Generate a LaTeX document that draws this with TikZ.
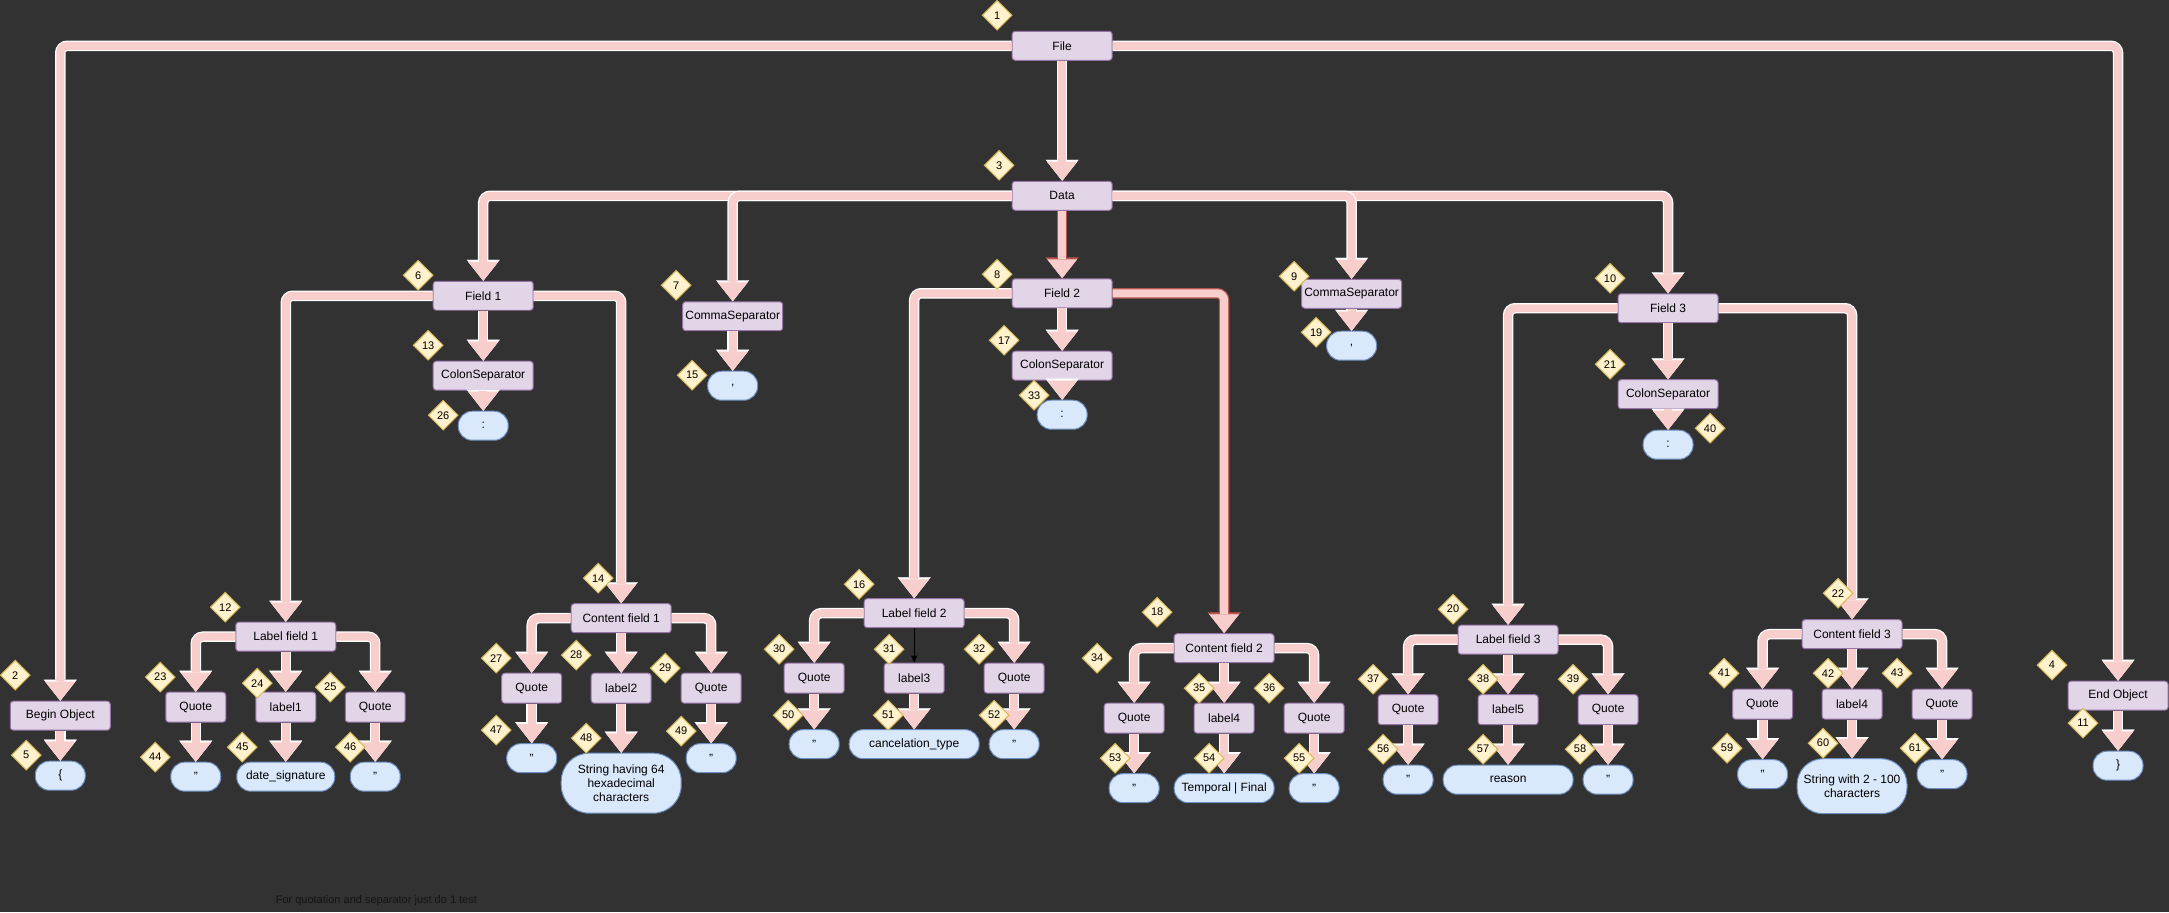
\documentclass[tikz,border=0pt]{standalone}
\usepackage{fontspec}
\setmainfont{Liberation Sans}
\usetikzlibrary{shapes.geometric,arrows.meta}

\definecolor{bgdark}{RGB}{50,50,50}
\definecolor{boxfill}{HTML}{E1D5E7}
\definecolor{boxline}{HTML}{9673A6}
\definecolor{valfill}{HTML}{DAE8FC}
\definecolor{valline}{HTML}{6C8EBF}
\definecolor{badgefill}{HTML}{FFF2CC}
\definecolor{badgeline}{HTML}{D6B656}
\definecolor{flowpink}{HTML}{F8CECC}
\definecolor{flowred}{HTML}{B85450}
\definecolor{notegray}{RGB}{20,20,20}

\begin{document}
\begin{tikzpicture}[x=1pt, y=-1pt,
    block/.style={rectangle, draw=boxline, fill=boxfill, line width=1pt, rounded corners=3pt, minimum width=100pt, minimum height=29pt, inner sep=0pt, font=\fontsize{12}{14}\selectfont},
    tok/.style={block, minimum width=60pt, minimum height=30pt},
    val/.style={rectangle, draw=valline, fill=valfill, line width=1pt, rounded corners=14pt, minimum width=50pt, minimum height=29pt, inner sep=0pt, align=center, font=\fontsize{12}{14}\selectfont},
    badge/.style={diamond, draw=badgeline, fill=badgefill, line width=1pt, minimum width=30pt, minimum height=30pt, inner sep=0pt, font=\fontsize{11}{13}\selectfont},
    line/.style={draw=flowpink, line width=8pt, rounded corners=7pt, -{Triangle[width=30pt, length=19pt, line width=0.1pt]},
        preaction={draw=#1, line width=10.5pt, -{Triangle[width=33pt, length=21pt, line width=0.1pt]}}},
    line/.default=white,
    plainline/.style={draw=black, line width=0.8pt, -{Triangle[width=6pt, length=7pt]}}]

    % background and page size
    \fill [bgdark] (0,0) rectangle (2169,912);

    % top level
    \node [block] (file) at (1062,45.5) {File};
    \node [block] (data) at (1062,195.5) {Data};
    \node [block] (begin) at (60,715.5) {Begin Object};
    \node [val] (lbrace) at (60,775.5) {\{};
    \node [block] (endobj) at (2118,695.5) {End Object};
    \node [val] (rbrace) at (2118,765.5) {\}};

    % field 1
    \node [block] (field1) at (483,295.5) {Field 1};
    \node [block] (colon1) at (483,375.5) {ColonSeparator};
    \node [val] (colv1) at (483,425.5) {:};
    \node [block] (comma1) at (732.5,316) {CommaSeparator};
    \node [val] (commav1) at (732.5,385.5) {,};
    \node [block] (lab1) at (285.5,636.5) {Label field 1};
    \node [tok] (q11) at (195.5,707) {Quote};
    \node [tok] (l1) at (285.5,707) {label1};
    \node [tok] (q12) at (375,707) {Quote};
    \node [val] (v11) at (195.5,776.5) {"};
    \node [val, minimum width=98pt] (v12) at (285.5,776.5) {date\_signature};
    \node [val] (v13) at (375,776.5) {"};
    \node [block] (con1) at (621,618) {Content field 1};
    \node [tok] (q13) at (531.5,688) {Quote};
    \node [tok] (l2) at (621,688) {label2};
    \node [tok] (q14) at (711,688) {Quote};
    \node [val] (v14) at (531.5,758) {"};
    \node [val, minimum width=120pt, minimum height=60pt, rounded corners=28pt] (v15) at (621,783) {String having 64\\hexadecimal\\characters};
    \node [val] (v16) at (711,758) {"};

    % field 2
    \node [block] (field2) at (1062,293) {Field 2};
    \node [block] (colon2) at (1062,365.5) {ColonSeparator};
    \node [val] (colv2) at (1062,414.5) {:};
    \node [block] (comma2) at (1351.5,293.5) {CommaSeparator};
    \node [val] (commav2) at (1351.5,345.5) {,};
    \node [block] (lab2) at (914,613) {Label field 2};
    \node [tok] (q21) at (814,678) {Quote};
    \node [tok] (l3) at (914,678) {label3};
    \node [tok] (q22) at (1014,678) {Quote};
    \node [val] (v21) at (814,744) {"};
    \node [val, minimum width=130pt] (v22) at (914,744) {cancelation\_type};
    \node [val] (v23) at (1014,744) {"};
    \node [block] (con2) at (1224,648) {Content field 2};
    \node [tok] (q23) at (1134,718) {Quote};
    \node [tok] (l4) at (1224,718) {label4};
    \node [tok] (q24) at (1314,718) {Quote};
    \node [val] (v24) at (1134,788) {"};
    \node [val, minimum width=100pt] (v25) at (1224,788) {Temporal | Final};
    \node [val] (v26) at (1314,788) {"};

    % field 3
    \node [block] (field3) at (1668,308) {Field 3};
    \node [block] (colon3) at (1668,394) {ColonSeparator};
    \node [val] (colv3) at (1668,444.5) {:};
    \node [block] (lab3) at (1508,639.5) {Label field 3};
    \node [tok] (q31) at (1408,709.5) {Quote};
    \node [tok] (l5) at (1508,709.5) {label5};
    \node [tok] (q32) at (1608,709.5) {Quote};
    \node [val] (v31) at (1408,779.5) {"};
    \node [val, minimum width=130pt] (v32) at (1508,779.5) {reason};
    \node [val] (v33) at (1608,779.5) {"};
    \node [block] (con3) at (1852,634) {Content field 3};
    \node [tok] (q33) at (1762.5,704) {Quote};
    \node [tok] (l6) at (1852,704) {label4};
    \node [tok] (q34) at (1942,704) {Quote};
    \node [val] (v34) at (1762.5,774) {"};
    \node [val, minimum width=110pt, minimum height=55pt, rounded corners=26pt] (v35) at (1852,786) {String with 2 - 100\\characters};
    \node [val] (v36) at (1942,774) {"};

    \node [anchor=west, text=notegray, font=\fontsize{11}{13}\selectfont] (note) at (272,900) {For quotation and separator just do 1 test};

    % file level
    \path [line] (file.west) -| (begin.north);
    \path [line] (file) -- (data);
    \path [line] (file.east) -| (endobj.north);
    \path [line] (begin) -- (lbrace);
    \path [line] (endobj) -- (rbrace);

    % data level
    \path [line] (data.west) -| (field1.north);
    \path [line] (data.west) -| (comma1.north);
    \path [line=flowred] (data) -- (field2);
    \path [line] (data.east) -| (field3.north);
    \path [line] (data.east) -| (comma2.north);
    \path [line] (comma1) -- (commav1);
    \path [line] (comma2) -- (commav2);

    % field 1
    \path [line] (field1.west) -| (lab1.north);
    \path [line] (field1) -- (colon1);
    \path [line] (colon1) -- (colv1);
    \path [line] (field1.east) -| (con1.north);
    \path [line] (lab1.west) -| (q11.north);
    \path [line] (lab1) -- (l1);
    \path [line] (lab1.east) -| (q12.north);
    \path [line] (q11) -- (v11);
    \path [line] (l1) -- (v12);
    \path [line] (q12) -- (v13);
    \path [line] (con1.west) -| (q13.north);
    \path [line] (con1) -- (l2);
    \path [line] (con1.east) -| (q14.north);
    \path [line] (q13) -- (v14);
    \path [line] (l2) -- (v15);
    \path [line] (q14) -- (v16);

    % field 2
    \path [line] (field2.west) -| (lab2.north);
    \path [line] (field2) -- (colon2);
    \path [line] (colon2) -- (colv2);
    \path [line=flowred] (field2.east) -| (con2.north);
    \path [line] (lab2.west) -| (q21.north);
    \path [plainline] (lab2) -- (l3);
    \path [line] (lab2.east) -| (q22.north);
    \path [line] (q21) -- (v21);
    \path [line] (l3) -- (v22);
    \path [line] (q22) -- (v23);
    \path [line] (con2.west) -| (q23.north);
    \path [line] (con2) -- (l4);
    \path [line] (con2.east) -| (q24.north);
    \path [line] (q23) -- (v24);
    \path [line] (l4) -- (v25);
    \path [line] (q24) -- (v26);

    % field 3
    \path [line] (field3.west) -| (lab3.north);
    \path [line] (field3) -- (colon3);
    \path [line] (colon3) -- (colv3);
    \path [line] (field3.east) -| (con3.north);
    \path [line] (lab3.west) -| (q31.north);
    \path [line] (lab3) -- (l5);
    \path [line] (lab3.east) -| (q32.north);
    \path [line] (q31) -- (v31);
    \path [line] (l5) -- (v32);
    \path [line] (q32) -- (v33);
    \path [line] (con3.west) -| (q33.north);
    \path [line] (con3) -- (l6);
    \path [line] (con3.east) -| (q34.north);
    \path [line] (q33) -- (v34);
    \path [line] (l6) -- (v35);
    \path [line] (q34) -- (v36);

    % step numbers
    \node [badge] (n1) at (997,15) {1};
    \node [badge] (n2) at (15,675) {2};
    \node [badge] (n3) at (999,165) {3};
    \node [badge] (n4) at (2052,665) {4};
    \node [badge] (n5) at (26,755) {5};
    \node [badge] (n6) at (418,275) {6};
    \node [badge] (n7) at (676,285) {7};
    \node [badge] (n8) at (997,274) {8};
    \node [badge] (n9) at (1294,276) {9};
    \node [badge] (n10) at (1610,278) {10};
    \node [badge] (n11) at (2083,723) {11};
    \node [badge] (n12) at (225,607) {12};
    \node [badge] (n13) at (428,345) {13};
    \node [badge] (n14) at (598,578) {14};
    \node [badge] (n15) at (692,375) {15};
    \node [badge] (n16) at (859,584) {16};
    \node [badge] (n17) at (1004,340) {17};
    \node [badge] (n18) at (1157,612) {18};
    \node [badge] (n19) at (1316,332) {19};
    \node [badge] (n20) at (1453,609) {20};
    \node [badge] (n21) at (1610,364) {21};
    \node [badge] (n22) at (1838,593) {22};
    \node [badge] (n23) at (160,677) {23};
    \node [badge] (n24) at (257,683) {24};
    \node [badge] (n25) at (330,687) {25};
    \node [badge] (n26) at (443,415) {26};
    \node [badge] (n27) at (496,658) {27};
    \node [badge] (n28) at (576,655) {28};
    \node [badge] (n29) at (665,668) {29};
    \node [badge] (n30) at (779,649) {30};
    \node [badge] (n31) at (889,649) {31};
    \node [badge] (n32) at (979,649) {32};
    \node [badge] (n33) at (1034,395) {33};
    \node [badge] (n34) at (1097,658) {34};
    \node [badge] (n35) at (1199,688) {35};
    \node [badge] (n36) at (1269,688) {36};
    \node [badge] (n37) at (1373,679) {37};
    \node [badge] (n38) at (1483,679) {38};
    \node [badge] (n39) at (1573,679) {39};
    \node [badge] (n40) at (1710,428) {40};
    \node [badge] (n41) at (1724,673) {41};
    \node [badge] (n42) at (1828,673) {42};
    \node [badge] (n43) at (1897,673) {43};
    \node [badge] (n44) at (155,757) {44};
    \node [badge] (n45) at (242,747) {45};
    \node [badge] (n46) at (350,747) {46};
    \node [badge] (n47) at (496,730) {47};
    \node [badge] (n48) at (586,738) {48};
    \node [badge] (n49) at (681,731) {49};
    \node [badge] (n50) at (788,715) {50};
    \node [badge] (n51) at (888,715) {51};
    \node [badge] (n52) at (994,715) {52};
    \node [badge] (n53) at (1115,758) {53};
    \node [badge] (n54) at (1209,758) {54};
    \node [badge] (n55) at (1299,758) {55};
    \node [badge] (n56) at (1383,749) {56};
    \node [badge] (n57) at (1483,749) {57};
    \node [badge] (n58) at (1580,749) {58};
    \node [badge] (n59) at (1727,748) {59};
    \node [badge] (n60) at (1823,743) {60};
    \node [badge] (n61) at (1915,748) {61};
\end{tikzpicture}
\end{document}
